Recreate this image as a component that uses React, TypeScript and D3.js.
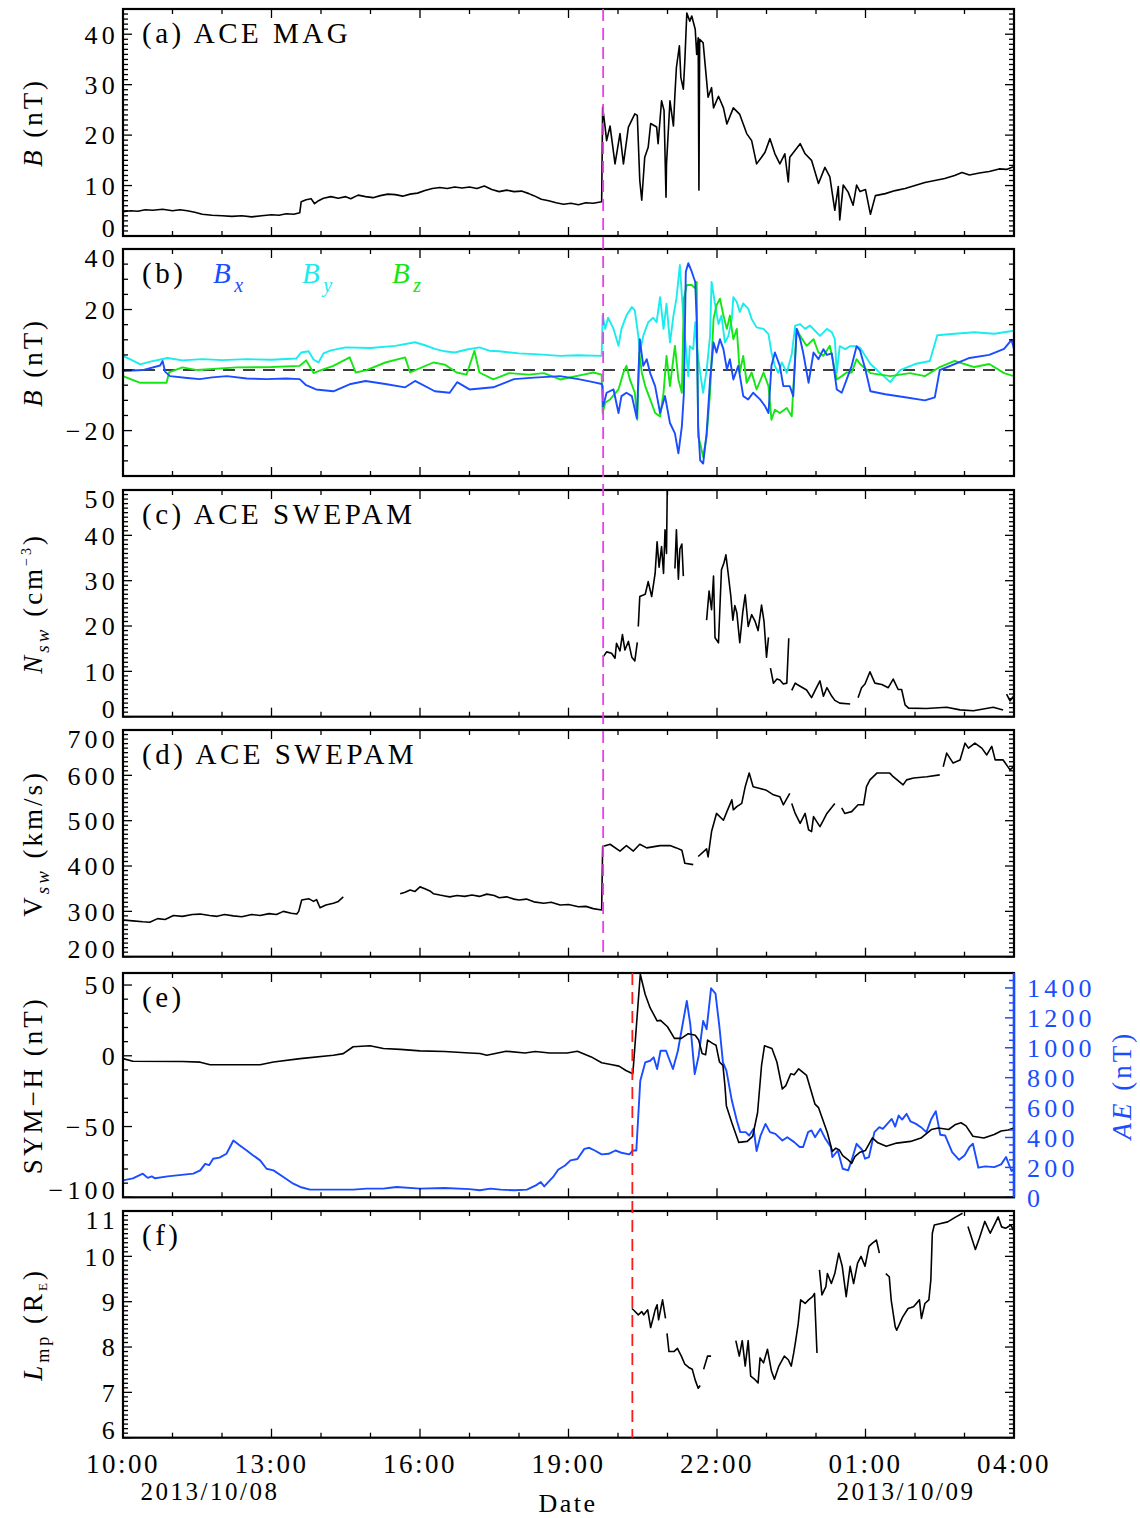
import * as d3 from 'd3';

type Pt = [number, number | null];

// hours since 2013/10/08 10:00
const xTickHours = [0, 3, 6, 9, 12, 15, 18];
const xTickLabels = ['10:00', '13:00', '16:00', '19:00', '22:00', '01:00', '04:00'];
const dateLabels = ['2013/10/08', '2013/10/09'];

const shockHour = 9.7; // ACE shock (magenta)
const arrivalHour = 10.29; // ground arrival (red)

// (a) |B|
const bTotal: Pt[] = [
  [0, 4.8], [0.15, 5.0], [0.3, 4.9], [0.45, 5.2], [0.6, 5.1], [0.8, 5.3], [1.0, 5.0], [1.15, 5.2], [1.3, 5.0],
  [1.45, 4.7], [1.6, 4.3], [1.8, 4.1], [2.0, 4.0], [2.2, 3.9], [2.4, 4.0], [2.6, 3.8], [2.8, 4.0], [3.0, 4.2],
  [3.15, 4.1], [3.3, 4.4], [3.45, 4.3], [3.57, 4.6], [3.6, 6.8], [3.7, 7.2], [3.8, 7.4], [3.87, 6.4], [3.95, 7.0],
  [4.05, 7.5], [4.2, 7.8], [4.35, 7.5], [4.5, 7.8], [4.6, 7.4], [4.75, 8.1], [4.9, 7.8], [5.05, 7.6], [5.2, 8.0],
  [5.35, 8.3], [5.5, 8.2], [5.65, 7.9], [5.8, 8.3], [5.95, 8.5], [6.1, 9.0], [6.25, 9.4], [6.4, 9.6], [6.55, 9.4],
  [6.7, 9.7], [6.85, 9.5], [7.0, 9.7], [7.15, 9.4], [7.3, 9.9], [7.45, 9.2], [7.6, 8.8], [7.75, 9.1], [7.9, 8.8],
  [8.05, 8.9], [8.2, 8.4], [8.3, 8.0], [8.45, 7.3], [8.6, 7.0], [8.75, 6.6], [8.9, 6.3], [9.05, 6.5], [9.2, 6.2],
  [9.35, 6.6], [9.5, 6.5], [9.67, 6.8],
  [9.69, 25.5], [9.74, 21.6], [9.77, 18.9], [9.84, 21.8], [9.94, 14.3], [10.04, 20.3], [10.11, 14.3],
  [10.21, 21.6], [10.34, 24.2], [10.39, 23.9], [10.44, 11.0], [10.48, 7.1], [10.54, 15.6], [10.61, 17.6],
  [10.66, 22.3], [10.78, 21.6], [10.81, 18.3], [10.88, 26.8], [10.93, 24.9], [10.97, 7.7], [10.98, 14.3],
  [11.05, 26.8], [11.12, 21.8], [11.15, 28.1], [11.18, 33.4], [11.24, 37.7], [11.27, 31.4], [11.32, 29.1],
  [11.35, 34.7], [11.39, 44.2], [11.45, 42.6], [11.49, 43.6], [11.56, 41], [11.59, 36], [11.62, 39.3],
  [11.635, 9.1], [11.65, 39], [11.72, 38.3], [11.79, 30.8], [11.82, 27.5], [11.89, 29.4], [11.93, 25.4],
  [12.03, 27.7], [12.13, 25.4], [12.2, 22.2], [12.33, 25.4], [12.46, 24.1], [12.6, 20.3], [12.7, 18.9],
  [12.8, 14.3], [12.9, 15.6], [12.97, 16.6], [13.07, 19.3], [13.17, 16.3], [13.27, 14.3], [13.37, 16.3],
  [13.44, 10.7], [13.47, 15.6], [13.68, 18.3], [13.78, 16.3], [13.91, 15.0], [14.05, 10.4], [14.18, 13.6],
  [14.28, 11.7], [14.38, 5.1], [14.45, 9.8], [14.48, 3.2], [14.55, 10.1], [14.65, 8.7], [14.75, 6.1],
  [14.82, 10.1], [14.89, 8.8], [15.0, 9.2], [15.1, 4.3], [15.2, 8.0], [15.4, 8.4], [15.6, 9.0], [15.8, 9.4],
  [16.0, 10.0], [16.2, 10.6], [16.4, 11.0], [16.6, 11.4], [16.8, 12.0], [16.95, 12.6], [17.1, 12.1],
  [17.3, 12.5], [17.5, 12.8], [17.7, 13.3], [17.85, 13.2], [18.0, 13.8],
];

// (b) components
const bx: Pt[] = [
  [0, -0.3], [0.4, 0], [0.75, 1.5], [0.8, 3], [0.85, -0.5], [0.95, -2], [1.3, -2.6], [1.55, -3], [1.8, -2.4],
  [2.1, -2], [2.5, -2.8], [2.9, -3], [3.3, -2.8], [3.57, -3], [3.7, -5], [3.9, -6.4], [4.25, -7], [4.6, -4.6],
  [4.9, -3.6], [5.3, -4.6], [5.7, -5.7], [5.9, -3.6], [6.3, -7], [6.6, -7.5], [6.75, -4], [7.0, -6.4],
  [7.48, -5.7], [7.9, -3], [8.3, -2.5], [8.83, -2], [9.2, -3], [9.5, -4], [9.67, -4.6],
  [9.69, -5.3], [9.7, -12], [9.77, -7.5], [9.91, -6.4], [10.01, -14.2], [10.07, -8.6], [10.17, -7.5],
  [10.28, -8.6], [10.38, -15.9], [10.44, 10.2], [10.51, 1.4], [10.58, 3.6], [10.65, -1], [10.75, -5.3],
  [10.85, -14.2], [10.95, -8.6], [11.05, -17.5], [11.15, -20.9], [11.22, -27.5], [11.29, -18.6], [11.33, -8],
  [11.37, 32.5], [11.42, 35.3], [11.49, 32.5], [11.56, 29.1], [11.59, 15.8], [11.62, -18.6], [11.66, -29.8],
  [11.72, -30.9], [11.79, -20.9], [11.86, -3.1], [11.93, 9.1], [11.99, 5.8], [12.06, 10.2], [12.13, 6.9],
  [12.2, 0.2], [12.26, 3.6], [12.33, -3.1], [12.43, 1.4], [12.53, -8.6], [12.63, -9.7], [12.73, -7.5],
  [12.87, -9.7], [12.97, -11.9], [13.04, -14.2], [13.1, 1.4], [13.17, 5.8], [13.27, 1.4], [13.34, -5.3],
  [13.47, -5.3], [13.54, -8.6], [13.61, 13.6], [13.68, 10.2], [13.74, 5.8], [13.85, -4.2], [13.95, 5.8],
  [14.05, 3.6], [14.15, 6.9], [14.22, 5], [14.32, 5.5], [14.42, -6.4], [14.52, -7.5], [14.62, -3.1],
  [14.72, 1.4], [14.82, 7.9], [14.89, 6.5], [15.0, 0], [15.1, -7], [15.4, -8], [15.8, -9], [16.2, -10],
  [16.4, -9], [16.5, 0], [16.8, 2], [17.1, 4], [17.5, 5], [17.8, 7], [17.95, 10], [18.0, 7],
];

const by: Pt[] = [
  [0, 4.7], [0.15, 3.5], [0.35, 1.9], [0.55, 2.8], [0.9, 4.0], [1.2, 3.2], [1.6, 3.6], [2.0, 3.3], [2.5, 3.6],
  [3.0, 3.4], [3.5, 3.8], [3.6, 5.8], [3.75, 6.2], [3.85, 3.5], [3.95, 2.5], [4.05, 5.5], [4.2, 6.5], [4.5, 7.5],
  [5.0, 7.3], [5.5, 8.0], [5.9, 9.2], [6.1, 8.2], [6.3, 7.0], [6.5, 6.2], [6.7, 5.8], [6.95, 6.8], [7.2, 7.5],
  [7.4, 6.4], [7.6, 6.2], [8.0, 5.5], [8.4, 5.2], [8.83, 4.7], [9.2, 4.9], [9.67, 4.7],
  [9.69, 18], [9.74, 13.6], [9.8, 17.3], [9.91, 13.6], [10.01, 8.0], [10.07, 13.6], [10.17, 18], [10.28, 20.8],
  [10.34, 19.7], [10.41, 11.3], [10.44, 5.8], [10.51, 11.3], [10.61, 15.8], [10.71, 17.3], [10.78, 15.8],
  [10.85, 24.1], [10.92, 13.6], [10.98, 21.9], [11.05, 9.1], [11.12, 18], [11.18, 23.6], [11.25, 34.7],
  [11.29, 24.7], [11.35, 11.3], [11.42, -2], [11.45, 7.9], [11.52, 6.9], [11.56, 15.8], [11.59, 7.9],
  [11.66, -0.9], [11.72, -7.5], [11.79, -0.2], [11.86, 11.3], [11.89, 29.1], [11.96, 21.9], [12.03, 15.2],
  [12.09, 18], [12.16, 9.1], [12.23, 11.3], [12.3, 16.9], [12.33, 24.1], [12.4, 22.5], [12.46, 19.2],
  [12.53, 22.0], [12.63, 20.3], [12.7, 16.9], [12.8, 14.1], [12.94, 13.6], [13.04, 11.9], [13.1, 5.8],
  [13.17, 1.3], [13.24, -0.9], [13.31, 2.5], [13.41, -0.9], [13.51, 5.2], [13.58, 14.7], [13.68, 15.2],
  [13.78, 13.6], [13.88, 14.7], [13.98, 13.0], [14.08, 11.3], [14.22, 13.6], [14.32, 12.5], [14.38, 10.2],
  [14.42, -0.9], [14.48, 7.9], [14.59, 6.9], [14.69, 7.9], [14.79, 7.9], [14.89, 7.4], [15.1, 2], [15.3, -1],
  [15.5, -4], [15.7, 0], [16.0, 2], [16.3, 3], [16.45, 11.5], [16.8, 12], [17.2, 12.5], [17.6, 12], [18.0, 13],
];

const bz: Pt[] = [
  [0, -2], [0.35, -4.2], [0.88, -4.2], [0.93, -0.8], [1.2, 0.9], [1.5, 0], [2.3, 0.9], [3.0, 1], [3.57, 1.4],
  [3.7, 3.2], [3.85, -1], [4.0, 0], [4.25, 1.4], [4.58, 4.2], [4.7, -0.8], [4.92, 0], [5.3, 2.5], [5.7, 4.2],
  [5.8, -0.8], [6.27, 2.5], [6.5, 1.8], [6.74, -0.8], [6.94, -1.5], [7.1, 6.4], [7.2, -0.8], [7.48, -3.1],
  [7.8, -1], [8.2, -1.5], [8.5, -1], [8.83, -3.1], [9.3, -1.5], [9.5, -0.8], [9.67, -1.5],
  [9.69, -14.2], [9.74, -10.8], [9.84, -9.7], [10.01, -6.4], [10.11, -0.8], [10.17, 1.4], [10.24, -3.1],
  [10.34, -7.5], [10.39, -16.4], [10.43, 5.8], [10.48, -0.8], [10.55, -5.3], [10.65, -9.7], [10.75, -14.2],
  [10.85, -15.3], [10.92, -7.5], [10.98, 4.7], [11.05, -5.3], [11.15, 8], [11.22, -3.1], [11.29, -7.5],
  [11.33, 23.6], [11.39, 28.1], [11.49, 28.1], [11.56, 27], [11.59, 29.1], [11.62, -22], [11.66, -24.2],
  [11.72, -28.7], [11.79, -22], [11.86, -7.5], [11.93, 16.9], [11.99, 21.4], [12.06, 23.6], [12.13, 18],
  [12.2, 13.6], [12.26, 18], [12.33, 10.2], [12.4, 13.6], [12.46, -0.8], [12.53, 4.7], [12.6, -4.2],
  [12.7, -0.8], [12.8, -6.4], [12.94, -0.8], [13.04, -5.3], [13.1, -16.4], [13.17, -13.1], [13.27, -14.2],
  [13.41, -12.5], [13.51, -15.3], [13.61, 13.6], [13.68, 11.3], [13.81, 8], [13.95, 10.2], [14.05, 5.8],
  [14.15, 4.7], [14.28, 8], [14.42, -3.1], [14.52, -2], [14.62, -0.8], [14.72, -0.8], [14.82, 3.6],
  [14.89, 2], [15.1, -1], [15.5, -2], [15.9, -1], [16.2, -2], [16.5, 1], [16.8, 3], [17.2, 1], [17.5, 2],
  [17.8, -1], [18.0, -2],
];

// (c) density, null = data gap
const nsw: Pt[] = [
  [9.7, 13.2], [9.77, 14.3], [9.87, 14], [9.94, 12.9], [9.97, 16.2], [10.04, 14.5], [10.09, 18.1], [10.14, 14.7],
  [10.21, 16.6], [10.28, 13.1], [10.34, 12.3], [10.39, 16.4], [10.4, null],
  [10.41, 19.9], [10.44, 26.5], [10.55, 27], [10.61, 29.8], [10.68, 26.5], [10.75, 31.6], [10.79, 38.6],
  [10.83, 33], [10.88, 37.5], [10.92, 31.6], [10.95, 41.2], [10.98, 36], [11.0, 55], [11.05, null],
  [11.15, 32.7], [11.18, 41.2], [11.22, 30.3], [11.25, 37], [11.29, 38.1], [11.32, 31], [11.4, null],
  [11.79, 21.3], [11.84, 27.7], [11.89, 23.6], [11.93, 31], [11.96, 17.4], [12.03, 16.3], [12.09, 32.4],
  [12.14, 33.9], [12.18, 35.7], [12.23, 31.2], [12.28, 26.5], [12.32, 21.3], [12.36, 24.5], [12.4, 23],
  [12.46, 16.3], [12.52, 23], [12.57, 26.9], [12.63, 19.9], [12.7, 22.5], [12.77, 21], [12.83, 19],
  [12.9, 24.6], [12.95, 21], [13.0, 13.1], [13.04, 17.5], [13.06, null],
  [13.08, 10.7], [13.14, 7.4], [13.21, 8.3], [13.27, 8.1], [13.34, 7.2], [13.41, 7.4], [13.45, 17.3], [13.48, null],
  [13.51, 5.8], [13.58, 7.4], [13.62, 7.1], [13.81, 5.9], [13.91, 4.2], [14.01, 6.4], [14.08, 7.9], [14.15, 4.5],
  [14.22, 6.4], [14.32, 4.5], [14.38, 3.6], [14.48, 3.0], [14.69, 2.8], [14.75, null],
  [14.85, 4.2], [14.92, 6.4], [14.99, 7.2], [15.09, 9.9], [15.19, 7.4], [15.33, 7.1], [15.46, 6.4],
  [15.56, 8.3], [15.66, 6.0], [15.73, 6.0], [15.8, 2.6], [15.87, 1.9], [16.23, 1.8], [16.64, 2.1],
  [16.91, 1.5], [17.18, 1.3], [17.58, 2.1], [17.78, 1.5], [17.82, null],
  [17.85, 5], [17.92, 3.5], [17.99, 4.5],
];

// (d) speed
const vsw: Pt[] = [
  [0, 281], [0.2, 279], [0.4, 277], [0.54, 276], [0.7, 284], [0.85, 282], [1.02, 291], [1.2, 289], [1.4, 293],
  [1.56, 294], [1.75, 291], [1.9, 289], [2.05, 293], [2.23, 290], [2.4, 288], [2.6, 293], [2.77, 291],
  [2.95, 295], [3.1, 293], [3.24, 300], [3.4, 296], [3.51, 294], [3.55, 300], [3.61, 325], [3.75, 328],
  [3.85, 322], [3.91, 326], [3.98, 308], [4.1, 314], [4.25, 318], [4.35, 322], [4.45, 332], [4.5, null],
  [5.6, 339], [5.7, 342], [5.8, 347], [5.9, 344], [6.0, 354], [6.1, 350], [6.2, 345], [6.27, 339], [6.4, 336],
  [6.5, 334], [6.6, 332], [6.75, 335], [6.9, 333], [7.05, 336], [7.2, 333], [7.35, 338], [7.5, 335], [7.6, 330],
  [7.75, 332], [7.9, 327], [8.0, 325], [8.15, 327], [8.3, 321], [8.5, 318], [8.65, 320], [8.83, 314],
  [9.0, 315], [9.2, 310], [9.35, 311], [9.5, 306], [9.67, 303],
  [9.69, 443], [9.84, 448], [10.04, 433], [10.17, 445], [10.31, 433],
  [10.44, 448], [10.58, 440], [10.85, 445], [11.05, 445], [11.18, 440], [11.29, 435], [11.35, 406],
  [11.52, 403], [11.56, null],
  [11.62, 421], [11.79, 438], [11.82, 420], [11.89, 476], [11.99, 516], [12.13, 501], [12.2, 520], [12.3, 546],
  [12.33, 524], [12.4, 531], [12.5, 538], [12.57, 575], [12.65, 605], [12.73, 575], [12.87, 571], [13.0, 567],
  [13.14, 557], [13.27, 553], [13.34, 535], [13.47, 560], [13.49, null],
  [13.51, 538], [13.58, 516], [13.68, 494], [13.78, 516], [13.85, 480], [13.91, 476], [13.95, 509],
  [14.08, 487], [14.15, 501], [14.22, 516], [14.38, 538], [14.45, null],
  [14.52, 528], [14.58, 516], [14.72, 520], [14.85, 535], [14.96, 535], [15.02, 575], [15.09, 590],
  [15.23, 605], [15.49, 605], [15.56, 597], [15.76, 579], [15.83, 590], [15.97, 594], [16.24, 597],
  [16.5, 601], [16.53, null],
  [16.57, 619], [16.64, 649], [16.77, 627], [16.91, 634], [17.01, 671], [17.08, 660], [17.21, 671],
  [17.35, 660], [17.45, 645], [17.55, 664], [17.62, 634], [17.78, 634], [17.92, 612], [18.0, 620],
];

// (e) SYM-H and AE
const symH: Pt[] = [
  [0, -2.0], [0.2, -3.9], [1.2, -4], [1.56, -4.5], [1.76, -6.3], [2.36, -6.3], [2.77, -6.3], [3.04, -4.4],
  [3.58, -2], [4.25, 0.4], [4.45, 1.5], [4.65, 6.4], [4.99, 7.1], [5.26, 5.2], [5.6, 4.5], [6.0, 3.5],
  [6.5, 3], [7.0, 2], [7.21, 1.6], [7.35, 0.4], [7.74, 3.2], [8.12, 2], [8.33, 3], [8.62, 2], [8.97, 2],
  [9.18, 3.2], [9.46, -0.8], [9.67, -4.9], [9.88, -6.3], [10.02, -7.3], [10.16, -10.4], [10.3, -12.7],
  [10.45, 57.6], [10.55, 43.3], [10.65, 33.8], [10.79, 24.7], [10.86, 25], [11.0, 20.5], [11.14, 12.3],
  [11.28, 12.3], [11.42, 15.6], [11.56, 14.5], [11.63, 11.1], [11.7, 1.6], [11.77, 0.8], [11.81, 11.1],
  [11.91, 8.8], [11.98, 7.5], [12.05, -4.4], [12.12, -6.8], [12.16, -21.1], [12.19, -35.4], [12.3, -47.3],
  [12.44, -61.2], [12.61, -60.5], [12.72, -56.9], [12.82, -40.1], [12.9, -6.8], [12.96, 7.1], [13.11, 5.2],
  [13.21, -4.4], [13.32, -23.5], [13.39, -21.1], [13.49, -12.7], [13.56, -13.4], [13.65, -9.2],
  [13.81, -13.9], [13.98, -34.2], [14.05, -36.6], [14.23, -54.4], [14.33, -67.6], [14.4, -65.3],
  [14.47, -66.5], [14.54, -70.5], [14.65, -73.5], [14.72, -76], [14.79, -71], [14.89, -68.1], [15.0, -66.9],
  [15.14, -58], [15.25, -61.5], [15.42, -64], [15.63, -61.7], [15.91, -60.5], [16.12, -58.1], [16.33, -52.1],
  [16.47, -51], [16.68, -52.1], [16.82, -48.5], [16.93, -47.3], [17.03, -49.5], [17.17, -56.9],
  [17.39, -58.1], [17.6, -55.6], [17.74, -53.2], [17.88, -52.5], [18.0, -51],
];

const ae: Pt[] = [
  [0, 113], [0.2, 127], [0.4, 158], [0.5, 130], [0.58, 140], [0.65, 127], [0.9, 140], [1.42, 158], [1.56, 180],
  [1.66, 224], [1.74, 215], [1.82, 258], [1.95, 265], [2.09, 291], [2.23, 380], [2.36, 347], [2.5, 313],
  [2.63, 280], [2.77, 247], [2.9, 191], [3.04, 180], [3.24, 136], [3.44, 91], [3.58, 69], [3.78, 51],
  [4.25, 51], [4.65, 51], [4.92, 58], [5.26, 58], [5.4, 64], [5.53, 69], [6.0, 58], [6.5, 62], [7.0, 55],
  [7.21, 47], [7.42, 58], [7.63, 51], [7.91, 47], [8.16, 51], [8.34, 80], [8.44, 102], [8.51, 73],
  [8.69, 136], [8.79, 184], [8.93, 213], [9.04, 247], [9.18, 256], [9.32, 324], [9.42, 331], [9.53, 313],
  [9.67, 287], [9.81, 291], [9.95, 313], [10.09, 296], [10.23, 287], [10.3, 313], [10.37, 313],
  [10.45, 780], [10.55, 902], [10.65, 913], [10.72, 936], [10.79, 858], [10.86, 980], [10.97, 980],
  [11.11, 858], [11.21, 980], [11.39, 1313], [11.46, 1158], [11.55, 824], [11.63, 947], [11.72, 1180],
  [11.79, 1124], [11.88, 1398], [11.97, 1362], [12.05, 1136], [12.12, 902], [12.19, 847], [12.3, 647],
  [12.4, 513], [12.47, 436], [12.58, 436], [12.65, 413], [12.74, 458], [12.8, 309], [12.88, 413],
  [12.98, 491], [13.07, 436], [13.18, 424], [13.32, 380], [13.42, 402], [13.56, 369], [13.67, 336],
  [13.74, 336], [13.84, 436], [13.91, 447], [13.98, 402], [14.09, 458], [14.19, 391], [14.3, 336],
  [14.33, 269], [14.44, 313], [14.54, 191], [14.65, 180], [14.72, 247], [14.82, 358], [14.93, 318],
  [14.99, 258], [15.07, 269], [15.18, 436], [15.28, 469], [15.35, 458], [15.53, 524], [15.6, 473],
  [15.67, 547], [15.74, 520], [15.83, 558], [15.91, 507], [16.02, 491], [16.12, 469], [16.23, 436],
  [16.33, 524], [16.42, 576], [16.51, 418], [16.61, 413], [16.75, 302], [16.89, 251], [17.0, 280],
  [17.1, 336], [17.17, 358], [17.28, 198], [17.42, 207], [17.6, 202], [17.74, 220], [17.84, 269],
  [17.95, 176], [18.0, 191],
];

// (f) magnetopause standoff
const lmp: Pt[] = [
  [10.28, 8.85], [10.33, 8.8], [10.41, 8.71], [10.48, 8.78], [10.52, 8.71], [10.6, 8.82], [10.66, 8.43],
  [10.71, 8.64], [10.75, 8.82], [10.79, 8.93], [10.82, 8.6], [10.9, 9.04], [10.96, 8.63], [10.98, null],
  [10.99, 8.30], [11.03, 7.90], [11.13, 7.9], [11.2, 7.97], [11.28, 7.8], [11.35, 7.62], [11.43, 7.55],
  [11.5, 7.51], [11.56, 7.27], [11.62, 7.09], [11.66, 7.15], [11.68, null],
  [11.73, 7.51], [11.81, 7.8], [11.88, 7.8], [11.9, null],
  [12.38, 8.14], [12.45, 7.8], [12.51, 8.14], [12.57, 7.58], [12.63, 8.14], [12.68, 7.36], [12.75, 7.3],
  [12.83, 7.21], [12.87, 7.76], [12.94, 7.65], [13.02, 7.95], [13.1, 7.47], [13.16, 7.29], [13.25, 7.58],
  [13.36, 7.8], [13.44, 7.72], [13.5, 7.58], [13.55, 7.87], [13.59, 8.14], [13.64, 8.51], [13.69, 9.04],
  [13.78, 8.96], [13.85, 9.04], [13.93, 9.11], [13.97, 9.18], [14.02, 7.87], [14.04, null],
  [14.07, 9.7], [14.12, 9.15], [14.2, 9.33], [14.23, 9.62], [14.31, 9.4], [14.38, 9.62], [14.46, 10.07],
  [14.53, 9.78], [14.61, 9.11], [14.69, 9.78], [14.76, 9.4], [14.84, 9.85], [14.91, 10.0], [14.99, 9.78],
  [15.07, 10.22], [15.14, 10.29], [15.22, 10.36], [15.28, 10.07], [15.32, null],
  [15.41, 9.62], [15.48, 9.55], [15.52, 9.03], [15.6, 8.45], [15.63, 8.37], [15.75, 8.66], [15.86, 8.85],
  [15.97, 8.89], [16.09, 9.04], [16.13, 8.63], [16.2, 8.96], [16.28, 9.04], [16.32, 9.48], [16.35, 10.51],
  [16.39, 10.69], [16.5, 10.72], [16.66, 10.76], [16.81, 10.86], [16.96, 10.95], [17.0, null],
  [17.07, 10.66], [17.22, 10.15], [17.3, 10.4], [17.41, 10.77], [17.52, 10.51], [17.6, 10.69],
  [17.68, 10.87], [17.75, 10.65], [17.83, 10.62], [17.94, 10.69], [18.0, 10.55],
];

// ---------- layout ----------
const W = 1140;
const H = 1518;
const LEFT = 123;
const RIGHT = 1014;
const FONT = '"Liberation Serif", "Times New Roman", serif';
const BLUE = '#1a4dff';
const CYAN = '#19ecec';
const GREEN = '#14e614';

const x = d3.scaleLinear().domain([0, 18]).range([LEFT, RIGHT]);

type Series = { data: Pt[]; color: string; scale?: 'right' };

type PanelProps = {
  top: number;
  bottom: number;
  domain: [number, number];
  majors: number[];
  minor: number;
  series: Series[];
  label: React.ReactNode;
  title: React.ReactNode;
  right?: { domain: [number, number]; majors: number[]; minor: number; color: string; title: React.ReactNode };
  zeroLine?: boolean;
  id: string;
};

const fmt = (v: number) => (v < 0 ? '\u2212' + Math.abs(v) : String(v));

function Panel({ top, bottom, domain, majors, minor, series, label, title, right, zeroLine, id }: PanelProps) {
  const y = d3.scaleLinear().domain(domain).range([bottom, top]);
  const yR = right ? d3.scaleLinear().domain(right.domain).range([bottom, top]) : null;
  const minors = d3.range(domain[0], domain[1] + 1e-9, minor).filter(v => !majors.some(m => Math.abs(m - v) < 1e-6));
  const xMinors = d3.range(0, 19, 1).filter(h => h % 3 !== 0);

  const mkLine = (sc: d3.ScaleLinear<number, number>) =>
    d3
      .line<Pt>()
      .defined(d => d[1] !== null)
      .x(d => x(d[0]))
      .y(d => sc(d[1] as number));

  const leftTicks = (
    <g stroke="#000" strokeWidth={1.3}>
      {majors.map(v => (
        <line key={'lm' + v} x1={LEFT} x2={LEFT + 9} y1={y(v)} y2={y(v)} />
      ))}
      {minors.map(v => (
        <line key={'ln' + v} x1={LEFT} x2={LEFT + 5} y1={y(v)} y2={y(v)} />
      ))}
      {!right &&
        majors.map(v => <line key={'rm' + v} x1={RIGHT} x2={RIGHT - 9} y1={y(v)} y2={y(v)} />)}
      {!right &&
        minors.map(v => <line key={'rn' + v} x1={RIGHT} x2={RIGHT - 5} y1={y(v)} y2={y(v)} />)}
    </g>
  );

  let rightTicks = null;
  if (right && yR) {
    const rMinors = d3
      .range(right.domain[0], right.domain[1] + 1e-9, right.minor)
      .filter(v => !right.majors.some(m => Math.abs(m - v) < 1e-6));
    rightTicks = (
      <g>
        <g stroke={right.color} strokeWidth={1.5}>
          {right.majors.map(v => (
            <line key={'am' + v} x1={RIGHT} x2={RIGHT - 9} y1={yR(v)} y2={yR(v)} />
          ))}
          {rMinors.map(v => (
            <line key={'an' + v} x1={RIGHT} x2={RIGHT - 5} y1={yR(v)} y2={yR(v)} />
          ))}
        </g>
        <g fill={right.color} fontSize={26} letterSpacing={4.2}>
          {right.majors.map(v => (
            <text key={'al' + v} x={RIGHT + 13} y={yR(v)} dy="0.36em" textAnchor="start">
              {fmt(v)}
            </text>
          ))}
        </g>
        <g transform={`translate(1121,${(top + bottom) / 2}) rotate(-90)`}>
          <text textAnchor="middle" dy="0.36em" fill={right.color} fontSize={27} letterSpacing={3}>
            {right.title}
          </text>
        </g>
      </g>
    );
  }

  return (
    <g>
      <defs>
        <clipPath id={id}>
          <rect x={LEFT} y={top} width={RIGHT - LEFT} height={bottom - top} />
        </clipPath>
      </defs>
      <g clipPath={`url(#${id})`} fill="none" strokeLinejoin="round">
        {zeroLine && (
          <line x1={LEFT} x2={RIGHT - 12} y1={y(0)} y2={y(0)} stroke="#000" strokeWidth={1.5} strokeDasharray="12,8" />
        )}
        {series.map((s, i) => (
          <path
            key={i}
            d={mkLine(s.scale === 'right' && yR ? yR : y)(s.data) || ''}
            stroke={s.color}
            strokeWidth={s.color === '#000' ? 1.6 : 1.9}
          />
        ))}
      </g>
      {/* x ticks top and bottom */}
      <g stroke="#000" strokeWidth={1.3}>
        {xTickHours.map(h => (
          <g key={'xm' + h}>
            <line x1={x(h)} x2={x(h)} y1={bottom} y2={bottom - 9} />
            <line x1={x(h)} x2={x(h)} y1={top} y2={top + 9} />
          </g>
        ))}
        {xMinors.map(h => (
          <g key={'xn' + h}>
            <line x1={x(h)} x2={x(h)} y1={bottom} y2={bottom - 5} />
            <line x1={x(h)} x2={x(h)} y1={top} y2={top + 5} />
          </g>
        ))}
      </g>
      {leftTicks}
      {rightTicks}
      <rect x={LEFT} y={top} width={RIGHT - LEFT} height={bottom - top} fill="none" stroke="#000" strokeWidth={2.2} />
      {right && <line x1={RIGHT} x2={RIGHT} y1={top} y2={bottom} stroke={right.color} strokeWidth={2.4} />}
      {/* left tick labels */}
      <g fontSize={26} letterSpacing={4.2} textAnchor="end">
        {majors.map(v => {
          let cy = y(v);
          cy = Math.max(cy, top + 9);
          cy = Math.min(cy, bottom - 8);
          return (
            <text key={'tl' + v} x={119} y={cy} dy="0.36em">
              {fmt(v)}
            </text>
          );
        })}
      </g>
      <g transform={`translate(32,${(top + bottom) / 2}) rotate(-90)`}>
        <text textAnchor="middle" dy="0.36em" fontSize={27} letterSpacing={3}>
          {title}
        </text>
      </g>
      <text x={142} y={top + 34} fontSize={29} letterSpacing={3.5}>
        {label}
      </text>
    </g>
  );
}

const panelTops = [9, 249, 490, 730, 973, 1211];
const panelBottoms = [236, 476, 716.7, 956.7, 1197.3, 1437.7];

export default function App() {
  const dashTopA = panelTops[0];
  const dashBotD = panelBottoms[3];
  return (
    <svg
      width={W}
      height={H}
      viewBox={`0 0 ${W} ${H}`}
      style={{ position: 'absolute', left: 0, top: 0, background: '#fff' }}
      fontFamily={FONT}
    >
      <rect width={W} height={H} fill="#fff" />
      <Panel
        id="pa"
        top={panelTops[0]}
        bottom={panelBottoms[0]}
        domain={[0, 45]}
        majors={[0, 10, 20, 30, 40]}
        minor={1}
        series={[{ data: bTotal, color: '#000' }]}
        label="(a) ACE MAG"
        title={
          <>
            <tspan fontStyle="italic">B</tspan> (nT)
          </>
        }
      />
      <Panel
        id="pb"
        top={panelTops[1]}
        bottom={panelBottoms[1]}
        domain={[-35, 40]}
        majors={[-20, 0, 20, 40]}
        minor={5}
        zeroLine
        series={[
          { data: by, color: CYAN },
          { data: bz, color: GREEN },
          { data: bx, color: BLUE },
        ]}
        label={
          <>
            <tspan>(b)</tspan>
            <tspan x={213} fill={BLUE} fontStyle="italic">B</tspan>
            <tspan fill={BLUE} fontStyle="italic" fontSize={20} dy={9}>x</tspan>
            <tspan x={302} dy={-9} fill={CYAN} fontStyle="italic">B</tspan>
            <tspan fill={CYAN} fontStyle="italic" fontSize={20} dy={9}>y</tspan>
            <tspan x={392} dy={-9} fill={GREEN} fontStyle="italic">B</tspan>
            <tspan fill={GREEN} fontStyle="italic" fontSize={20} dy={9}>z</tspan>
          </>
        }
        title={
          <>
            <tspan fontStyle="italic">B</tspan> (nT)
          </>
        }
      />
      <Panel
        id="pc"
        top={panelTops[2]}
        bottom={panelBottoms[2]}
        domain={[0, 50]}
        majors={[0, 10, 20, 30, 40, 50]}
        minor={1}
        series={[{ data: nsw, color: '#000' }]}
        label="(c) ACE SWEPAM"
        title={
          <>
            <tspan fontStyle="italic">N</tspan>
            <tspan fontStyle="italic" fontSize={19} dy={7}>sw</tspan>
            <tspan dy={-7}> (cm</tspan>
            <tspan fontSize={14} dy={-11}>−3</tspan>
            <tspan dy={11}>)</tspan>
          </>
        }
      />
      <Panel
        id="pd"
        top={panelTops[3]}
        bottom={panelBottoms[3]}
        domain={[200, 700]}
        majors={[200, 300, 400, 500, 600, 700]}
        minor={10}
        series={[{ data: vsw, color: '#000' }]}
        label="(d) ACE SWEPAM"
        title={
          <>
            <tspan>V</tspan>
            <tspan fontStyle="italic" fontSize={19} dy={7}>sw</tspan>
            <tspan dy={-7}> (km/s)</tspan>
          </>
        }
      />
      <Panel
        id="pe"
        top={panelTops[4]}
        bottom={panelBottoms[4]}
        domain={[-100, 58.5]}
        majors={[-100, -50, 0, 50]}
        minor={10}
        series={[
          { data: ae, color: BLUE, scale: 'right' },
          { data: symH, color: '#000' },
        ]}
        label="(e)"
        title={<>SYM−H (nT)</>}
        right={{
          domain: [0, 1500],
          majors: [0, 200, 400, 600, 800, 1000, 1200, 1400],
          minor: 50,
          color: BLUE,
          title: (
            <>
              <tspan fontStyle="italic">AE</tspan> (nT)
            </>
          ),
        }}
      />
      <Panel
        id="pf"
        top={panelTops[5]}
        bottom={panelBottoms[5]}
        domain={[6, 11]}
        majors={[6, 7, 8, 9, 10, 11]}
        minor={0.1}
        series={[{ data: lmp, color: '#000' }]}
        label="(f)"
        title={
          <>
            <tspan fontStyle="italic">L</tspan>
            <tspan fontSize={18} dy={7}>mp</tspan>
            <tspan dy={-7}> (R</tspan>
            <tspan fontSize={13} dy={5}>E</tspan>
            <tspan dy={-5}>)</tspan>
          </>
        }
      />

      {/* event markers */}
      <line
        x1={x(shockHour)}
        x2={x(shockHour)}
        y1={dashTopA}
        y2={dashBotD}
        stroke="#e640e6"
        strokeWidth={1.8}
        strokeDasharray="12,7"
      />
      <line
        x1={x(arrivalHour)}
        x2={x(arrivalHour)}
        y1={panelTops[4]}
        y2={panelBottoms[5]}
        stroke="#ff1a1a"
        strokeWidth={1.8}
        strokeDasharray="12,7"
      />

      {/* time axis */}
      <g letterSpacing={2.5} textAnchor="middle">
        {xTickHours.map((h, i) => (
          <text key={h} x={x(h)} y={1473} fontSize={27}>
            {xTickLabels[i]}
          </text>
        ))}
        <text x={210} y={1500} fontSize={25}>{dateLabels[0]}</text>
        <text x={906} y={1500} fontSize={25}>{dateLabels[1]}</text>
        <text x={568} y={1512} fontSize={26}>Date</text>
      </g>
    </svg>
  );
}
